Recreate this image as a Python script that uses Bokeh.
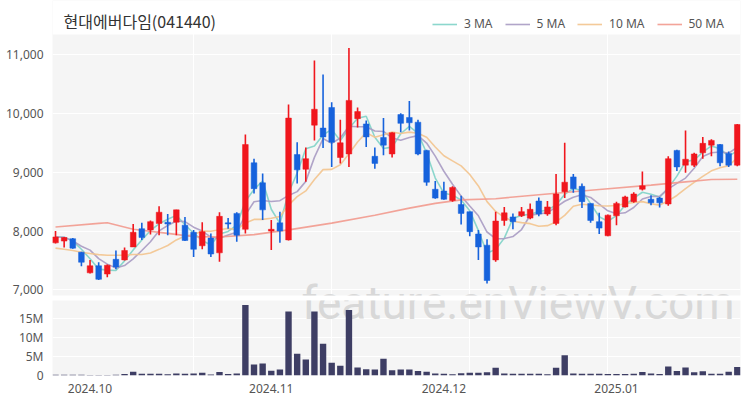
import pandas as pd
from bokeh.plotting import figure
from bokeh.models import (BoxAnnotation, ColumnDataSource, FixedTicker, Label, Legend,
                          LegendItem, NumeralTickFormatter, Range1d)
from bokeh.layouts import column
from bokeh.embed import file_html
from bokeh.resources import INLINE

# ---------------- data ----------------
opens = [7800, 7830, 7870, 7640, 7290, 7410, 7270, 7520, 7510, 7730,
         8040, 8020, 8130, 8150, 8150, 8100, 7980, 7750, 7880, 7630,
         8140, 8300, 8030, 9160, 8820, 8000, 8140, 7850, 9300, 9050,
         9800, 9750, 10100, 9250, 9310, 9910, 9820, 9270, 9590, 9310,
         9980, 9930, 9850, 9370, 8710, 8680, 8520, 8450, 8330, 7950,
         7760, 7510, 8180, 8240, 8260, 8220, 8510, 8290, 8130, 8670,
         8920, 8760, 8470, 8160, 7920, 8260, 8410, 8500, 8710, 8540,
         8560, 8460, 9370, 9120, 9120, 9330, 9460, 9470, 9320, 9120]
highs = [8000, 7900, 7880, 7650, 7510, 7470, 7430, 7670, 7720, 8120,
         8140, 8180, 8420, 8290, 8360, 8240, 8020, 8150, 7960, 8320,
         8220, 8320, 9640, 9230, 8980, 8190, 8330, 10150, 9510, 9420,
         10900, 10660, 10190, 9890, 11110, 10100, 9880, 9420, 9920, 9680,
         10000, 10210, 9890, 9380, 8850, 8840, 8760, 8600, 8330, 8020,
         7860, 8330, 8410, 8300, 8410, 8470, 8570, 8510, 8970, 9500,
         8970, 8810, 8470, 8310, 8280, 8500, 8600, 8660, 9010, 8610,
         8580, 9270, 9380, 9710, 9330, 9600, 9560, 9480, 9350, 9820]
lows = [7790, 7720, 7700, 7400, 7280, 7170, 7215, 7350, 7500, 7730,
        7850, 7940, 7930, 7930, 7930, 7830, 7560, 7690, 7560, 7480,
        8040, 7820, 7960, 8640, 8190, 7680, 7800, 7840, 8810, 8840,
        9540, 9410, 9090, 9150, 9090, 9760, 9430, 9060, 9290, 9250,
        9680, 9710, 9290, 8770, 8550, 8530, 8500, 8110, 7910, 7510,
        7110, 7480, 8090, 8030, 8240, 8200, 8250, 8260, 8100, 8560,
        8650, 8390, 8140, 7950, 7910, 8100, 8400, 8480, 8690, 8440,
        8400, 8430, 9020, 8990, 9090, 9230, 9270, 9100, 9090, 9100]
closes = [7900, 7890, 7710, 7470, 7410, 7180, 7420, 7390, 7670, 7980,
          7890, 8160, 8320, 8120, 8360, 7840, 7690, 7990, 7610, 8250,
          8120, 7930, 9470, 8720, 8360, 8030, 8000, 9920, 9040, 9230,
          10070, 9600, 9510, 9500, 10220, 10030, 9600, 9150, 9460, 9670,
          9830, 9840, 9310, 8830, 8560, 8540, 8740, 8300, 7990, 7730,
          7160, 8170, 8310, 8160, 8330, 8370, 8290, 8410, 8630, 8830,
          8720, 8500, 8180, 8050, 8270, 8470, 8580, 8630, 8770, 8480,
          8480, 9230, 9090, 9220, 9310, 9490, 9540, 9160, 9120, 9810]
volumes_m = [0.2, 0.2, 0.2, 0.2, 0.1, 0.15, 0.15, 0.2, 0.4, 1.0,
             0.45, 0.45, 0.45, 0.3, 0.5, 0.45, 0.5, 0.7, 0.25, 0.9,
             0.4, 0.55, 18.4, 2.85, 3.15, 1.25, 1.6, 16.7, 5.7, 4.15,
             16.7, 8.3, 3.35, 2.55, 17.15, 2.1, 1.65, 1.6, 4.4, 1.35,
             1.6, 1.6, 1.15, 1.0, 0.5, 0.45, 0.35, 0.6, 0.7, 0.75,
             0.85, 2.0, 0.55, 0.45, 0.45, 0.45, 0.45, 0.3, 2.0, 5.3,
             0.5, 0.45, 0.45, 0.45, 0.4, 0.4, 0.4, 0.45, 0.9, 0.5,
             0.4, 2.35, 1.15, 2.1, 0.85, 1.1, 0.45, 0.45, 1.0, 2.2]
# 10-day MA before enough candles are on screen
ma10_head = [7710, 7690, 7670, 7640, 7620, 7600, 7590, 7590, 7590]
ma50_idx = [0, 5, 6, 9, 13, 16, 19, 23, 27, 32, 37, 41, 44, 47, 51, 57, 63, 69, 73, 76, 79]
ma50_val = [8070, 8130, 8140, 8030, 7960, 7905, 7900, 7940, 8020, 8135, 8270, 8390,
            8470, 8530, 8550, 8630, 8705, 8780, 8835, 8875, 8880]
tick_idx = [4, 25, 45, 65]
tick_labels = ["2024.10", "2024.11", "2024.12", "2025.01"]
price_ticks = [7000, 8000, 9000, 10000, 11000]
vol_ticks = [0, 5e6, 10e6, 15e6]
vol_tick_labels = ["0", "5M", "10M", "15M"]
title_text = "현대에버다임(041440)"
ma_names = ["3 MA", "5 MA", "10 MA", "50 MA"]
ma_colors = ["#7fd3c8", "#a99bc3", "#f3c48e", "#f29a8e"]
watermark = "feature.enViewV.com"

# ---------------- derived ----------------
n = len(closes)
idx = list(range(n))
cl = pd.Series(closes, dtype=float)
ma3 = cl.rolling(3, min_periods=1).mean().tolist()
ma5 = cl.rolling(5, min_periods=1).mean().tolist()
ma10 = cl.rolling(10).mean().tolist()
ma10 = ma10_head + ma10[len(ma10_head):]

UP, DOWN = "#f0161d", "#1662dc"
colors = [UP if c >= o else DOWN for o, c in zip(opens, closes)]
top = [max(o, c) for o, c in zip(opens, closes)]
bot = [min(o, c) for o, c in zip(opens, closes)]
bot = [b if t - b > 8 else t - 8 for t, b in zip(top, bot)]
src = ColumnDataSource(dict(x=idx, o=opens, h=highs, l=lows, c=closes,
                            top=top, bot=bot, color=colors,
                            vol=[v * 1e6 for v in volumes_m]))

FONT = "Noto Sans"
TXT = "#555555"
BG = "#f5f5f5"
W = 742

# price axis: 261 px for 6905..11340, plus a 34 px white header strip on top
P_LO, P_HI = 6905, 11340
P_TOP = P_LO + (P_HI - P_LO) * 295 / 261

x_range = Range1d(-0.35, 79.37)

# ---------------- price ----------------
p = figure(width=W, height=297, x_range=x_range, y_range=Range1d(P_LO, P_TOP),
           output_backend="svg", toolbar_location=None, x_axis_location=None,
           min_border_left=52, min_border_right=2, min_border_top=0, min_border_bottom=2)
p.background_fill_color = BG
p.border_fill_color = "white"
p.outline_line_color = None
p.yaxis.ticker = FixedTicker(ticks=price_ticks)
p.yaxis.formatter = NumeralTickFormatter(format="0,0")
p.yaxis.axis_line_color = None
p.yaxis.major_tick_line_color = None
p.yaxis.minor_tick_line_color = None
p.yaxis.major_label_standoff = 3
p.yaxis.major_label_text_font = FONT
p.yaxis.major_label_text_font_size = "12px"
p.yaxis.major_label_text_color = TXT
p.ygrid.grid_line_color = "white"
p.ygrid.grid_line_width = 1
p.xgrid.ticker = FixedTicker(ticks=[16, 32, 48, 64])
p.xgrid.grid_line_color = "white"
p.xgrid.grid_line_width = 1

wm_kw = dict(text=watermark, text_font="Roboto", text_font_size="46px",
             text_color="#d8d8d8", text_baseline="middle", text_align="left",
             level="underlay")
p.add_layout(Label(x=28.5, y=P_LO - 7 * (P_HI - P_LO) / 261, **wm_kw))

ma_lines = []
for ys, col, xs in [(ma3, ma_colors[0], idx), (ma5, ma_colors[1], idx),
                    (ma10, ma_colors[2], idx), (ma50_val, ma_colors[3], ma50_idx)]:
    ma_lines.append(p.line(xs, ys, line_color=col, line_width=1.6, line_alpha=0.9))

p.segment(x0="x", y0="h", x1="x", y1="l", line_color="color", line_width=1.6, source=src)
p.vbar(x="x", width=0.66, top="top", bottom="bot", fill_color="color",
       line_color="color", line_width=0.5, source=src)

# white header strip with title and legend
p.add_layout(BoxAnnotation(bottom=P_HI, fill_color="white", fill_alpha=1.0,
                           line_color=None))
p.add_layout(Label(x=0.93, y=P_LO + (P_TOP - P_LO) * (295 - 20) / 295, text=title_text,
                   text_font="Noto Sans CJK KR", text_font_size="16px",
                   text_color="#333333", text_baseline="middle"))
legend = Legend(items=[LegendItem(label=nm, renderers=[r]) for nm, r in zip(ma_names, ma_lines)],
                location=(380, 263), orientation="horizontal",
                padding=0, margin=0, spacing=12, label_standoff=7,
                glyph_width=25, glyph_height=16, label_height=16,
                border_line_color=None, background_fill_alpha=0,
                label_text_font=FONT, label_text_font_size="12px",
                label_text_color=TXT)
p.add_layout(legend, "center")

# ---------------- volume ----------------
v = figure(width=W, height=98, x_range=x_range, y_range=Range1d(0, 19.6e6),
           output_backend="svg", toolbar_location=None,
           min_border_left=52, min_border_right=2, min_border_top=3, min_border_bottom=20)
v.background_fill_color = BG
v.border_fill_color = "white"
v.outline_line_color = None
v.yaxis.ticker = FixedTicker(ticks=vol_ticks)
v.yaxis.major_label_overrides = {t: s for t, s in zip(vol_ticks, vol_tick_labels)}
v.yaxis.axis_line_color = None
v.yaxis.major_tick_line_color = None
v.yaxis.minor_tick_line_color = None
v.yaxis.major_label_standoff = 3
v.yaxis.major_label_text_font = FONT
v.yaxis.major_label_text_font_size = "12px"
v.yaxis.major_label_text_color = TXT
v.xaxis.ticker = FixedTicker(ticks=tick_idx)
v.xaxis.major_label_overrides = {t: s for t, s in zip(tick_idx, tick_labels)}
v.xaxis.axis_line_color = None
v.xaxis.major_tick_line_color = None
v.xaxis.minor_tick_line_color = None
v.xaxis.major_label_standoff = 2
v.xaxis.major_label_text_font = FONT
v.xaxis.major_label_text_font_size = "12px"
v.xaxis.major_label_text_color = TXT
v.ygrid.grid_line_color = "white"
v.xgrid.ticker = FixedTicker(ticks=[16, 32, 48, 64])
v.xgrid.grid_line_color = "white"
v.add_layout(Label(x=28.5, y=(375 - 302) / 75 * 19.6e6, **wm_kw))
v.vbar(x="x", width=0.74, top="vol", bottom=0, fill_color="#3e3e64",
       line_color=None, source=src)

layout = column(p, v, spacing=0)
open("out.html", "w").write(file_html(layout, INLINE))
